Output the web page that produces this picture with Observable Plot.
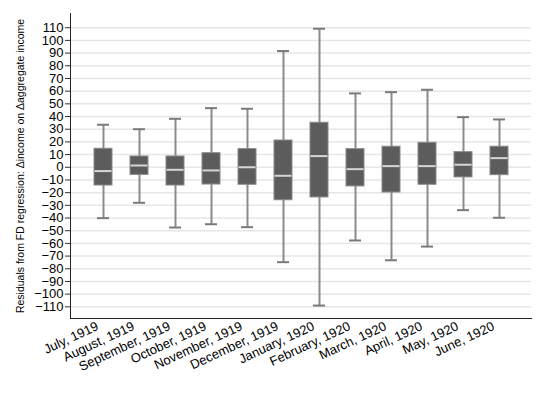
<!DOCTYPE html>
<html>
<head>
<meta charset="utf-8">
<script src="https://cdn.jsdelivr.net/npm/d3@7"></script>
<script src="https://cdn.jsdelivr.net/npm/@observablehq/plot@0.6"></script>
<style>
  html, body { margin: 0; padding: 0; background: #fff; }
  #chart svg { display: block; }
</style>
</head>
<body>
<div id="chart"></div>
<script>
const months = ["July, 1919","August, 1919","September, 1919","October, 1919","November, 1919","December, 1919","January, 1920","February, 1920","March, 1920","April, 1920","May, 1920","June, 1920"];
const whiskerLow  = [-40.1, -28, -47.5, -44.9, -47.2, -74.8, -109, -57.7, -73.3, -62.5, -33.8, -39.8];
const q1          = [-14.4, -6, -14.4, -13.6, -13.8, -26, -23.8, -15.1, -19.9, -13.8, -8, -6.2];
const median      = [-3, 1.4, -2, -2.5, 0, -6.7, 8.8, -1.5, 0.9, 0.9, 2, 7.2];
const q3          = [14.6, 8.5, 8.5, 11.1, 14.3, 21.1, 35.1, 14.3, 16.2, 19.3, 11.9, 16.2];
const whiskerHigh = [33.5, 30, 38.2, 46.6, 46.1, 91.6, 109.2, 58.2, 59.2, 61.1, 39.5, 37.7];
const yTicks = d3.range(-110, 111, 10);

const data = months.map((m, i) => ({
  month: m, lo: whiskerLow[i], q1: q1[i], med: median[i], q3: q3[i], hi: whiskerHigh[i]
}));

const fmt = d => d < 0 ? "\u2212" + Math.abs(d) : String(d);

const chart = Plot.plot({
  width: 545,
  height: 396,
  marginLeft: 70,
  marginRight: 14,
  marginTop: 13,
  marginBottom: 78,
  style: { fontFamily: "'Liberation Sans', Arial, sans-serif", background: "#fff" },
  x: { type: "band", domain: months, paddingInner: 0.5, paddingOuter: 0.48, label: null },
  y: { domain: [-119.2, 121.2], label: null },
  marks: [
    Plot.gridY(yTicks, { stroke: "#e6e6e6", strokeOpacity: 1, strokeWidth: 1.5 }),
    Plot.ruleX(data, { x: "month", y1: "lo", y2: "hi", stroke: "#8a8a8a", strokeWidth: 2 }),
    Plot.tickY(data, { x: "month", y: "lo", stroke: "#7a7a7a", strokeWidth: 2, insetLeft: 3, insetRight: 3 }),
    Plot.tickY(data, { x: "month", y: "hi", stroke: "#7a7a7a", strokeWidth: 2, insetLeft: 3, insetRight: 3 }),
    Plot.barY(data, { x: "month", y1: "q1", y2: "q3", fill: "#5c5c5c", stroke: "#8a8a8a", strokeWidth: 1 }),
    Plot.tickY(data, { x: "month", y: "med", stroke: "#d6d6d6", strokeWidth: 2, insetLeft: 0.5, insetRight: 0.5 }),
    Plot.axisY({
      ticks: yTicks, tickFormat: fmt, tickSize: 5, tickPadding: 2,
      fill: "#000", stroke: "#333", label: null
    }),
    Plot.axisX({
      tickSize: 0, tickRotate: -25, tickPadding: 7, dx: -6,
      textAnchor: "end", fill: "#000", label: null
    }),
    Plot.frame({ anchor: "left", stroke: "#222", strokeWidth: 1 }),
    Plot.frame({ anchor: "bottom", stroke: "#222", strokeWidth: 1 }),
    Plot.text(["Residuals from FD regression: \u0394income on \u0394aggregate income"], {
      frameAnchor: "left", dx: -50, rotate: -90, fill: "#000", textAnchor: "middle"
    })
  ]
});
document.getElementById("chart").appendChild(chart);

// Set font sizes directly on the rendered text elements
d3.select(chart).selectAll("text").each(function () {
  const t = this.textContent;
  let size = 13;
  if (/^Residuals/.test(t)) size = 10.5;
  else if (/^[\u2212\-]?\d+$/.test(t)) size = 13;
  this.style.fontSize = size + "px";
});
</script>
</body>
</html>
